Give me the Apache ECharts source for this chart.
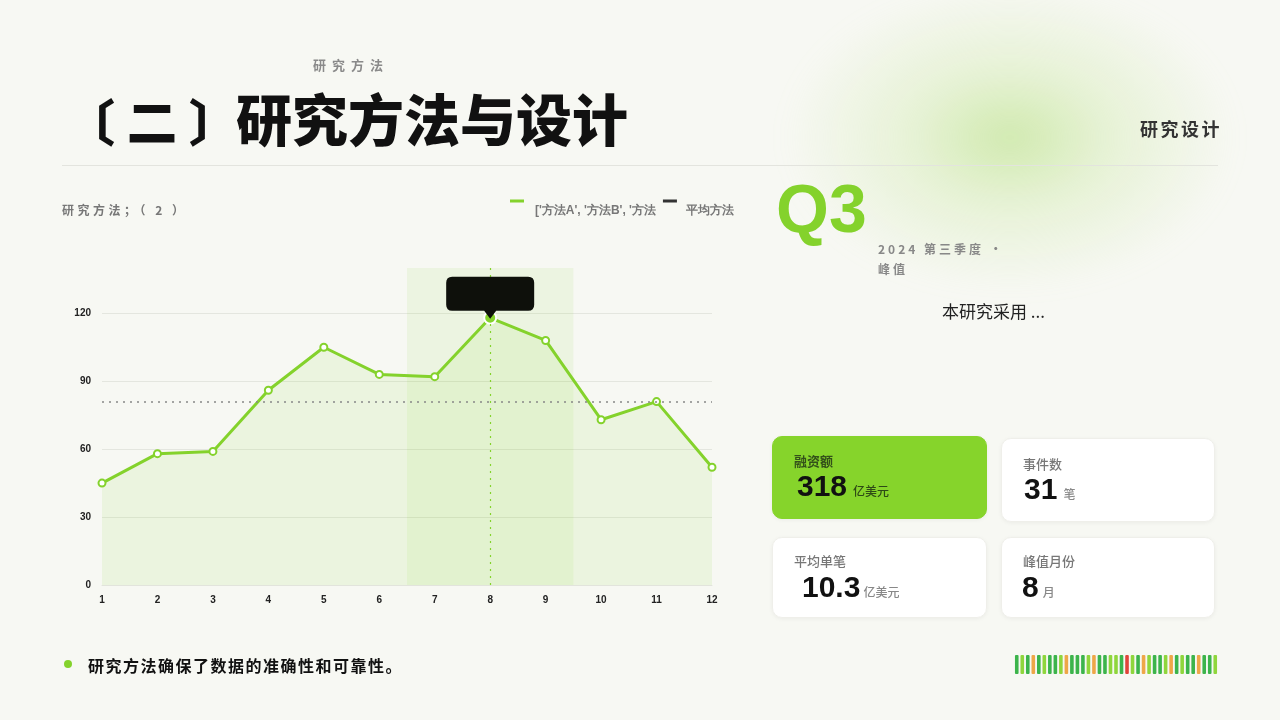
<!DOCTYPE html>
<html>
<head>
<meta charset="utf-8">
<title>研究方法与设计</title>
<script src="https://cdn.jsdelivr.net/npm/echarts/dist/echarts.min.js"></script>
<style>
  html, body { margin: 0; padding: 0; }
  body {
    width: 1280px; height: 720px; position: relative; overflow: hidden;
    background: #f7f8f3;
    font-family: 'Noto Sans CJK SC', 'Noto Sans', sans-serif;
  }
  .abs { position: absolute; white-space: nowrap; }
  .glow {
    position: absolute; left: 785px; top: -15px; width: 450px; height: 305px;
    background: radial-gradient(ellipse closest-side at 50% 50%,
      rgba(176,222,118,0.55) 0%, rgba(196,230,150,0.3) 45%, rgba(247,248,243,0) 100%);
    filter: blur(12px);
  }
  #chart { position: absolute; left: 0; top: 0; width: 1280px; height: 720px; }
  .kicker { left: 313px; top: 55px; font-size: 13px; font-weight: 700; color: #8a8a8a; letter-spacing: 6px; }
  .h1 { left: 90px; top: 89px; font-size: 56px; font-weight: 900; color: #111; line-height: 1; }
  .h1 .br { font-size: 50px; font-feature-settings: "halt"; letter-spacing: 12px; margin-right: 10px; }
  .side { right: 58px; top: 115px; font-size: 18px; font-weight: 700; color: #333; letter-spacing: 2.5px; }
  .divider { position: absolute; left: 62px; top: 165px; width: 1156px; height: 1px; background: #e3e4de; }
  .subtitle { left: 62px; top: 201px; font-size: 12px; font-weight: 700; color: #777; letter-spacing: 3.5px; }
  .q3 { left: 776px; top: 174px; font-family: 'Liberation Sans', Arial, sans-serif; font-size: 68px; font-weight: 700; color: #84d22c; line-height: 1; }
  .period { position: absolute; left: 878px; top: 239px; width: 132px; font-size: 12px; font-weight: 700; color: #888; letter-spacing: 3px; line-height: 20px; }
  .lead { left: 942px; top: 298px; font-size: 17px; color: #222; }
  .card { position: absolute; border-radius: 10px; background: #fff; box-shadow: 0 1px 4px rgba(0,0,0,0.05); border: 1px solid #efefea; box-sizing: border-box; }
  .card.green { background: #86d42b; border-color: #86d42b; }
  .card .lab { position: absolute; left: 21px; font-size: 13px; font-weight: 500; color: #777; line-height: 16px; }
  .card.green .lab { color: #33501a; font-weight: 600; }
  .card .val { position: absolute; font-family: 'Liberation Sans', Arial, sans-serif; font-size: 30px; font-weight: 700; color: #111; line-height: 30px; white-space: nowrap; }
  .card .unit { font-family: 'Noto Sans CJK SC', sans-serif; font-size: 12px; font-weight: 500; color: #888; }
  .card.green .unit { color: #2e4a16; }
  .dot { position: absolute; left: 64px; top: 660px; width: 8px; height: 8px; border-radius: 50%; background: #84d22c; }
  .note { left: 88px; top: 653px; font-size: 16px; font-weight: 700; color: #111; letter-spacing: 1.5px; }
</style>
</head>
<body>
<div class="glow"></div>
<div id="chart"></div>

<div class="abs kicker">研究方法</div>
<div class="abs h1"><span class="br">〔二〕</span>研究方法与设计</div>
<div class="abs side">研究设计</div>
<div class="divider"></div>
<div class="abs subtitle">研究方法；（ 2 ）</div>

<div class="abs q3">Q3</div>
<div class="period">2024 第三季度 · 峰值</div>
<div class="abs lead">本研究采用 ...</div>

<div class="card green" style="left:772px;top:436px;width:215px;height:83px">
  <div class="lab" style="top:16px">融资额</div>
  <div class="val" style="left:24px;top:34px">318<span class="unit" style="margin-left:6px">亿美元</span></div>
</div>
<div class="card" style="left:1001px;top:438px;width:214px;height:84px">
  <div class="lab" style="top:17px">事件数</div>
  <div class="val" style="left:22px;top:35px">31<span class="unit" style="margin-left:6px">笔</span></div>
</div>
<div class="card" style="left:772px;top:537px;width:215px;height:81px">
  <div class="lab" style="top:15px">平均单笔</div>
  <div class="val" style="left:29px;top:34px">10.3<span class="unit" style="margin-left:3px">亿美元</span></div>
</div>
<div class="card" style="left:1001px;top:537px;width:214px;height:81px">
  <div class="lab" style="top:15px">峰值月份</div>
  <div class="val" style="left:20px;top:34px">8<span class="unit" style="margin-left:4px">月</span></div>
</div>

<div class="dot"></div>
<div class="abs note">研究方法确保了数据的准确性和可靠性。</div>

<script>
// 月份与数值
const months = [1, 2, 3, 4, 5, 6, 7, 8, 9, 10, 11, 12];
const methodValues = [45, 58, 59, 86, 105, 93, 92, 118, 108, 73, 81, 52];
const seriesName = "['方法A', '方法B', '方法C']";
const avgName = '平均方法';
const peakMonth = 8;
const highlightFrom = 6.5;
const highlightTo = 9.5;
// 底部色条：0 深绿 1 浅绿 2 橙 3 红
const stripLevels = [0,1,0,2,0,1,0,0,1,2,0,0,0,1,2,0,0,1,1,0,3,1,0,2,1,0,0,1,2,0,1,0,0,2,0,0,1];

const green = '#84d22c';
const stripPalette = ['#3cb44b', '#8fd63c', '#eea748', '#e0443a'];
const labelFont = "'Liberation Sans Narrow', 'Liberation Sans', sans-serif";
// 图例图标：顶部一条短线
const legendIcon = 'path://M0,0H14V3H0ZM0,22.95H0.05V23H0Z';

let chart = echarts.init(document.getElementById('chart'));

const lineData = months.map((m, i) => {
  if (m === peakMonth) {
    return {
      value: [m, methodValues[i]],
      symbol: 'circle',
      symbolSize: 12,
      itemStyle: { color: green, borderColor: '#fff', borderWidth: 2 }
    };
  }
  return [m, methodValues[i]];
});
const peakValue = methodValues[months.indexOf(peakMonth)];

chart.setOption({
  animation: false,
  legend: {
    left: 510,
    top: 199.5,
    padding: 0,
    icon: legendIcon,
    itemWidth: 14,
    itemHeight: 23,
    itemGap: 7,
    selectedMode: false,
    formatter: name => (name === seriesName ? name.slice(0, 18) : name),
    textStyle: { color: '#777', fontSize: 12, fontWeight: 'bold', padding: [0, 0, 0, 6] },
    data: [
      { name: seriesName, itemStyle: { color: green } },
      { name: avgName, itemStyle: { color: '#333' }, textStyle: { padding: [0, 0, 0, 4] } }
    ]
  },
  grid: [
    { left: 102, right: 568, top: 268, bottom: 135 },
    { left: 1014, top: 655, width: 204, height: 19 }
  ],
  xAxis: [
    {
      type: 'value', gridIndex: 0, min: 1, max: 12, interval: 1,
      axisLine: { show: true, lineStyle: { color: '#e2e4dc' } },
      axisTick: { show: false },
      splitLine: { show: false },
      axisLabel: { color: '#222', fontSize: 10, fontWeight: 'bold', fontFamily: labelFont, margin: 10 }
    },
    {
      type: 'category', gridIndex: 1, data: stripLevels.map((l, i) => String(i)),
      show: false
    }
  ],
  yAxis: [
    {
      type: 'value', gridIndex: 0, min: 0, max: 140, interval: 30,
      axisLine: { show: false },
      axisTick: { show: false },
      splitLine: { show: true, showMaxLine: false, lineStyle: { color: '#e4e6df' } },
      axisLabel: { color: '#222', fontSize: 10, fontWeight: 'bold', fontFamily: labelFont, margin: 11, showMaxLabel: false }
    },
    { type: 'value', gridIndex: 1, min: 0, max: 1, show: false }
  ],
  series: [
    {
      name: seriesName,
      type: 'line',
      xAxisIndex: 0, yAxisIndex: 0,
      color: green,
      data: lineData,
      symbol: 'emptyCircle',
      symbolSize: 7,
      showAllSymbol: true,
      itemStyle: { borderWidth: 2 },
      lineStyle: { color: green, width: 3 },
      areaStyle: { color: 'rgba(132,210,44,0.14)' },
      z: 3,
      markArea: {
        silent: true,
        itemStyle: { color: 'rgba(132,210,44,0.09)' },
        data: [[{ xAxis: highlightFrom }, { xAxis: highlightTo }]]
      },
      markLine: {
        silent: true,
        symbol: 'none',
        label: { show: false },
        data: [
          { type: 'average', lineStyle: { type: [2, 5], color: '#888', width: 1.5 } },
          { xAxis: peakMonth, lineStyle: { type: [2, 5], color: green, width: 1.2 } }
        ]
      },
      markPoint: {
        silent: true,
        data: [{
          coord: [peakMonth, peakValue],
          symbol: 'path://M6,0 H82 Q88,0 88,6 V28 Q88,34 82,34 H50 L44,42 L38,34 H6 Q0,34 0,28 V6 Q0,0 6,0 Z',
          symbolSize: [88, 42],
          symbolOffset: [0, -20],
          itemStyle: { color: '#0e100b' },
          label: { show: false }
        }]
      }
    },
    {
      name: avgName,
      type: 'line',
      xAxisIndex: 0, yAxisIndex: 0,
      color: '#333',
      data: []
    },
    {
      type: 'bar',
      xAxisIndex: 1, yAxisIndex: 1,
      barWidth: 3.6,
      silent: true,
      data: stripLevels.map(l => ({ value: 1, itemStyle: { color: stripPalette[l], borderRadius: 1 } }))
    }
  ]
});
</script>
</body>
</html>
